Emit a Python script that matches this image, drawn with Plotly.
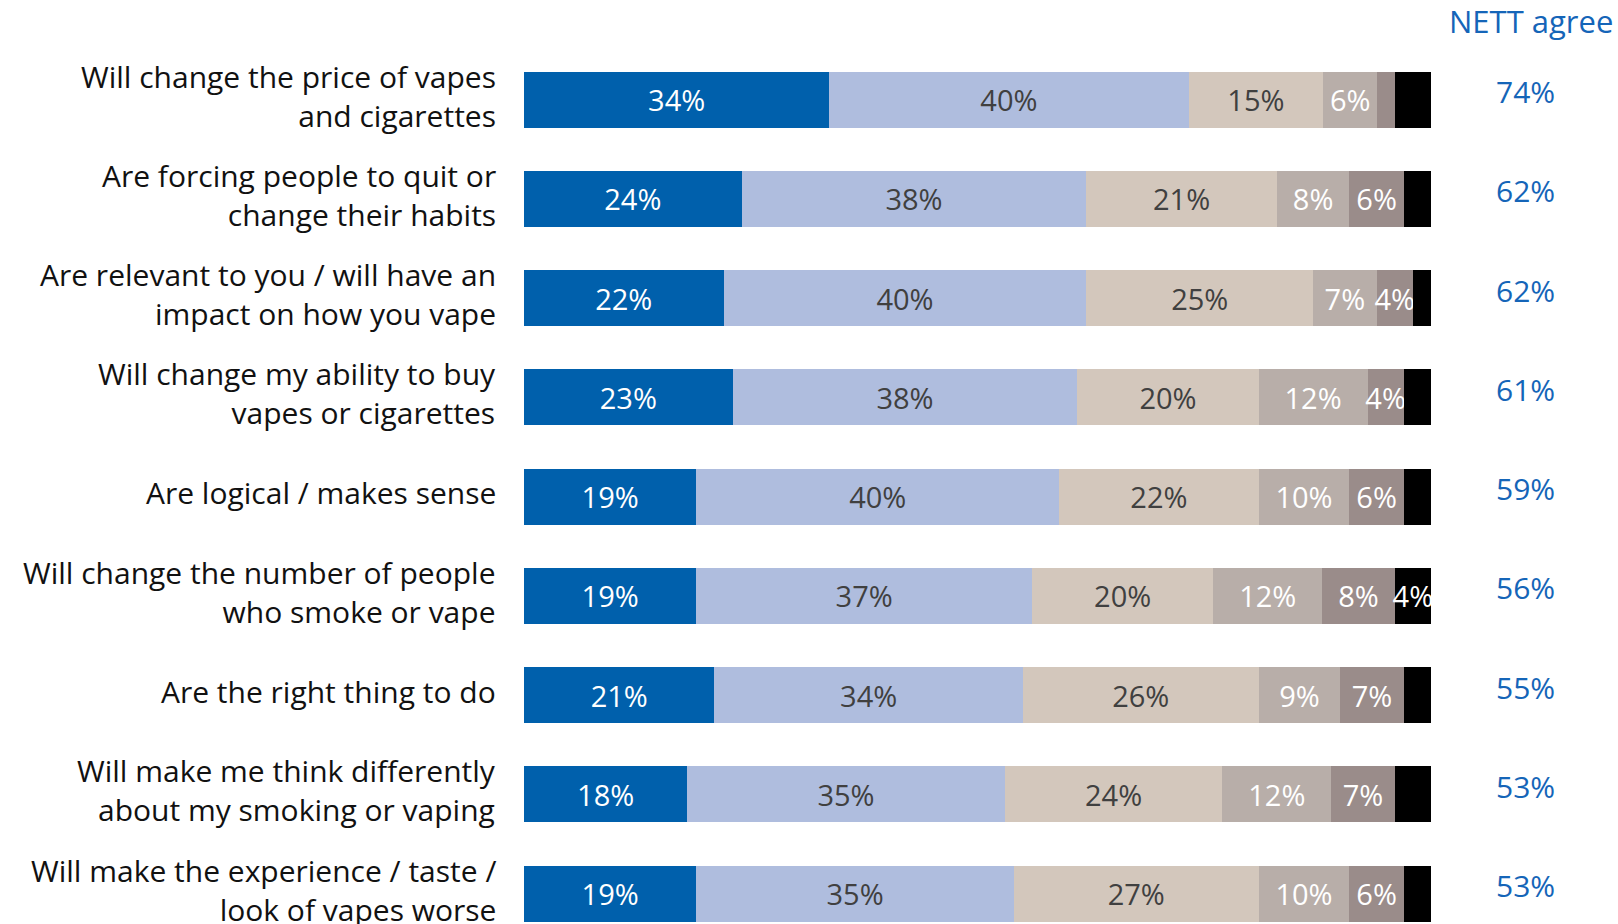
import plotly.graph_objects as go

# Statements about the new rules (top to bottom)
statements = [
    "Will change the price of vapes<br>and cigarettes",
    "Are forcing people to quit or<br>change their habits",
    "Are relevant to you / will have an<br>impact on how you vape",
    "Will change my ability to buy<br>vapes or cigarettes",
    "Are logical / makes sense",
    "Will change the number of people<br>who smoke or vape",
    "Are the right thing to do",
    "Will make me think differently<br>about my smoking or vaping",
    "Will make the experience / taste /<br>look of vapes worse",
]

# Response shares (%) per statement
strongly_agree    = [34, 24, 22, 23, 19, 19, 21, 18, 19]
tend_to_agree     = [40, 38, 40, 38, 40, 37, 34, 35, 35]
neither           = [15, 21, 25, 20, 22, 20, 26, 24, 27]
tend_to_disagree  = [6, 8, 7, 12, 10, 12, 9, 12, 10]
strongly_disagree = [2, 6, 4, 4, 6, 8, 7, 7, 6]
dont_know         = [4, 3, 2, 3, 3, 4, 3, 4, 3]

# Which segments carry a printed value
show_sd = [False, True, True, True, True, True, True, True, True]
show_dk = [False, False, False, False, False, True, False, False, False]

nett_agree = [74, 62, 62, 61, 59, 56, 55, 53, 53]

FONT = "Open Sans"
BLUE_TEXT = "#1565B8"
rows = list(range(len(statements)))

series = [
    (strongly_agree,    "#0060AC", "#FFFFFF", None),
    (tend_to_agree,     "#AFBDDE", "#404040", None),
    (neither,           "#D3C7BC", "#404040", None),
    (tend_to_disagree,  "#B8AEA9", "#FFFFFF", None),
    (strongly_disagree, "#9A8C8A", "#FFFFFF", show_sd),
    (dont_know,         "#000000", "#FFFFFF", show_dk),
]

fig = go.Figure()
for vals, color, tcolor, mask in series:
    if mask is None:
        mask = [True] * len(vals)
    labels = [f"{v}%" if m else "" for v, m in zip(vals, mask)]
    fig.add_trace(go.Bar(
        x=vals, y=rows, orientation="h",
        marker=dict(color=color, line=dict(width=0)),
        text=labels, textposition="inside", insidetextanchor="middle",
        textangle=0, constraintext="none",
        textfont=dict(family=FONT, size=29, color=tcolor),
        hoverinfo="skip", showlegend=False,
    ))

# plot area in pixels: x 524..1431, y 50..924
L, R, T, B = 524, 187, 50, 0
PW = 1618 - L - R

# statement labels, right-aligned to the left of the bars
for r, s in zip(rows, statements):
    fig.add_annotation(x=0, y=r, xref="paper", yref="y", text=s,
                       showarrow=False, xanchor="right", yanchor="middle",
                       align="right", xshift=-26, yshift=4,
                       font=dict(family=FONT, size=30, color="#111111"))

# NETT agree column
nett_x = (1525 - L) / PW
for r, v in zip(rows, nett_agree):
    fig.add_annotation(x=nett_x, y=r, xref="paper", yref="y", text=f"{v}%",
                       showarrow=False, xanchor="center", yanchor="middle",
                       yshift=8,
                       font=dict(family=FONT, size=30, color=BLUE_TEXT))
fig.add_annotation(x=(1531 - L) / PW, y=1 + (T - 21) / 874, xref="paper", yref="paper",
                   text="NETT agree", showarrow=False,
                   xanchor="center", yanchor="middle",
                   font=dict(family=FONT, size=31, color=BLUE_TEXT))

fig.update_layout(
    width=1618, height=924,
    margin=dict(l=L, r=R, t=T, b=B, pad=0),
    barmode="stack", barnorm="percent", bargap=0.435,
    plot_bgcolor="white", paper_bgcolor="white",
    xaxis=dict(range=[0, 100], visible=False, fixedrange=True),
    yaxis=dict(range=[8.307, -0.5], visible=False, fixedrange=True),
    font=dict(family=FONT),
)

fig.write_html("out.html")
